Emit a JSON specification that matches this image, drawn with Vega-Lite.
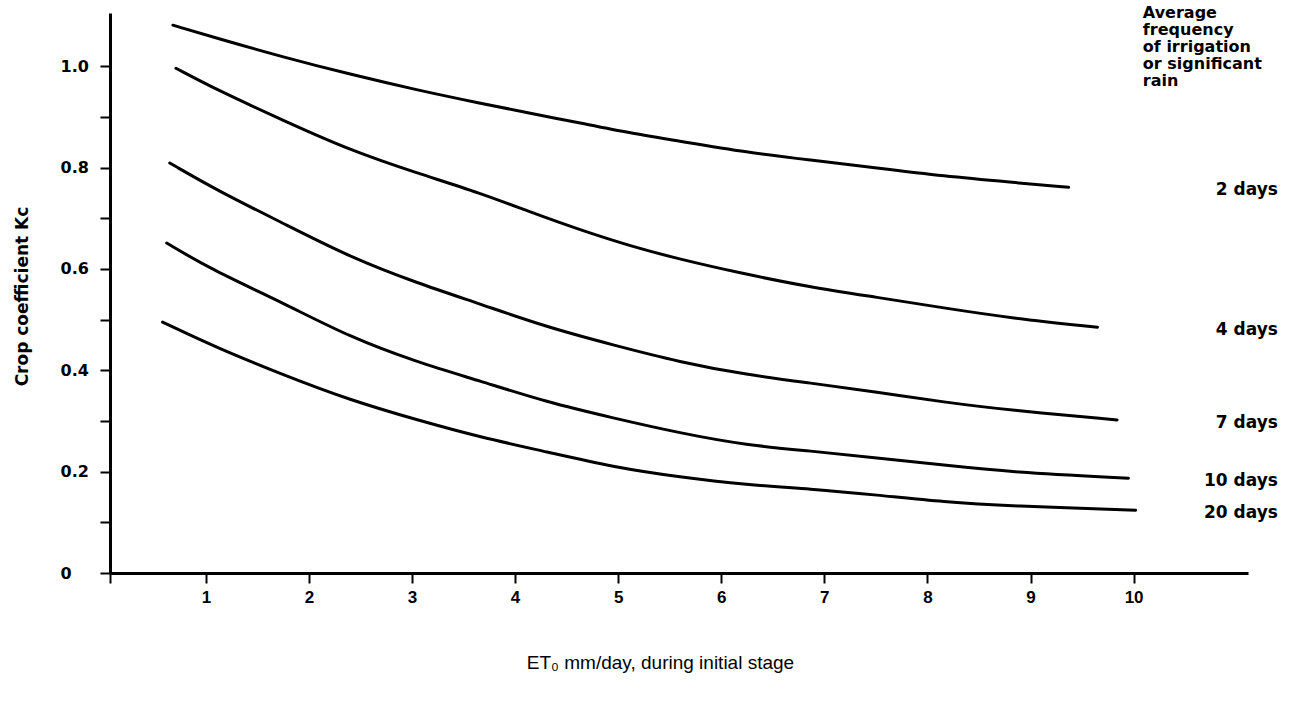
{
  "$schema": "https://vega.github.io/schema/vega-lite/v6.json",
  "width": 1138,
  "height": 560,
  "autosize": {"type": "none"},
  "padding": {"left": 110, "top": 13, "right": 65, "bottom": 132},
  "background": "white",
  "config": {
    "view": {"stroke": null},
    "axis": {"grid": false}
  },
  "datasets": {
    "curves": [
      {"series": "2 days", "x": 0.68, "v": 1.081},
      {"series": "2 days", "x": 1.11, "v": 1.055},
      {"series": "2 days", "x": 1.75, "v": 1.018},
      {"series": "2 days", "x": 2.40, "v": 0.984},
      {"series": "2 days", "x": 3.05, "v": 0.953},
      {"series": "2 days", "x": 3.66, "v": 0.927},
      {"series": "2 days", "x": 4.15, "v": 0.907},
      {"series": "2 days", "x": 4.63, "v": 0.888},
      {"series": "2 days", "x": 5.12, "v": 0.868},
      {"series": "2 days", "x": 5.60, "v": 0.852},
      {"series": "2 days", "x": 6.25, "v": 0.830},
      {"series": "2 days", "x": 6.86, "v": 0.815},
      {"series": "2 days", "x": 7.51, "v": 0.799},
      {"series": "2 days", "x": 8.16, "v": 0.783},
      {"series": "2 days", "x": 8.81, "v": 0.771},
      {"series": "2 days", "x": 9.37, "v": 0.761},
      {"series": "4 days", "x": 0.71, "v": 0.996},
      {"series": "4 days", "x": 1.11, "v": 0.953},
      {"series": "4 days", "x": 1.75, "v": 0.893},
      {"series": "4 days", "x": 2.40, "v": 0.834},
      {"series": "4 days", "x": 3.05, "v": 0.789},
      {"series": "4 days", "x": 3.66, "v": 0.750},
      {"series": "4 days", "x": 4.15, "v": 0.712},
      {"series": "4 days", "x": 4.63, "v": 0.677},
      {"series": "4 days", "x": 5.12, "v": 0.645},
      {"series": "4 days", "x": 5.60, "v": 0.619},
      {"series": "4 days", "x": 6.18, "v": 0.592},
      {"series": "4 days", "x": 6.86, "v": 0.564},
      {"series": "4 days", "x": 7.51, "v": 0.544},
      {"series": "4 days", "x": 8.16, "v": 0.523},
      {"series": "4 days", "x": 8.81, "v": 0.503},
      {"series": "4 days", "x": 9.65, "v": 0.485},
      {"series": "7 days", "x": 0.65, "v": 0.809},
      {"series": "7 days", "x": 1.11, "v": 0.755},
      {"series": "7 days", "x": 1.75, "v": 0.690},
      {"series": "7 days", "x": 2.40, "v": 0.623},
      {"series": "7 days", "x": 3.05, "v": 0.572},
      {"series": "7 days", "x": 3.66, "v": 0.531},
      {"series": "7 days", "x": 4.31, "v": 0.485},
      {"series": "7 days", "x": 4.95, "v": 0.450},
      {"series": "7 days", "x": 5.60, "v": 0.416},
      {"series": "7 days", "x": 6.25, "v": 0.391},
      {"series": "7 days", "x": 6.86, "v": 0.375},
      {"series": "7 days", "x": 7.51, "v": 0.357},
      {"series": "7 days", "x": 8.16, "v": 0.337},
      {"series": "7 days", "x": 8.81, "v": 0.321},
      {"series": "7 days", "x": 9.84, "v": 0.302},
      {"series": "10 days", "x": 0.62, "v": 0.651},
      {"series": "10 days", "x": 1.06, "v": 0.598},
      {"series": "10 days", "x": 1.75, "v": 0.533},
      {"series": "10 days", "x": 2.40, "v": 0.465},
      {"series": "10 days", "x": 3.05, "v": 0.416},
      {"series": "10 days", "x": 3.66, "v": 0.379},
      {"series": "10 days", "x": 4.31, "v": 0.337},
      {"series": "10 days", "x": 4.95, "v": 0.306},
      {"series": "10 days", "x": 5.60, "v": 0.276},
      {"series": "10 days", "x": 6.25, "v": 0.252},
      {"series": "10 days", "x": 6.86, "v": 0.241},
      {"series": "10 days", "x": 7.51, "v": 0.227},
      {"series": "10 days", "x": 8.16, "v": 0.213},
      {"series": "10 days", "x": 8.81, "v": 0.199},
      {"series": "10 days", "x": 9.95, "v": 0.187},
      {"series": "20 days", "x": 0.58, "v": 0.495},
      {"series": "20 days", "x": 1.11, "v": 0.444},
      {"series": "20 days", "x": 1.75, "v": 0.391},
      {"series": "20 days", "x": 2.40, "v": 0.341},
      {"series": "20 days", "x": 3.05, "v": 0.302},
      {"series": "20 days", "x": 3.66, "v": 0.268},
      {"series": "20 days", "x": 4.31, "v": 0.239},
      {"series": "20 days", "x": 4.95, "v": 0.209},
      {"series": "20 days", "x": 5.60, "v": 0.189},
      {"series": "20 days", "x": 6.25, "v": 0.174},
      {"series": "20 days", "x": 6.86, "v": 0.166},
      {"series": "20 days", "x": 7.51, "v": 0.154},
      {"series": "20 days", "x": 8.16, "v": 0.140},
      {"series": "20 days", "x": 8.81, "v": 0.132},
      {"series": "20 days", "x": 10.02, "v": 0.124}
    ],
    "note": [
      {"text": "Average\nfrequency\nof irrigation\nor significant\nrain"}
    ]
  },
  "layer": [
    {
      "data": {"name": "curves"},
      "mark": {"type": "line", "color": "black", "strokeWidth": 3, "interpolate": "basis", "strokeCap": "round"},
      "encoding": {
        "x": {
          "field": "x", "type": "quantitative",
          "scale": {"domain": [0.07, 11.11], "nice": false, "zero": false},
          "axis": {
            "title": "ET₀  mm/day, during initial stage",
            "values": [0.07, 1, 2, 3, 4, 5, 6, 7, 8, 9, 10],
            "labelExpr": "datum.value < 0.5 ? '' : format(datum.value, 'd')",
            "domainColor": "black", "domainWidth": 3,
            "tickColor": "black", "tickWidth": 2, "tickSize": 10,
            "labelColor": "black", "labelFont": "Liberation Sans Narrow, Liberation Sans", "labelFontSize": 17, "labelFontWeight": "bold",
            "labelPadding": 6,
            "titleColor": "black", "titleFont": "Liberation Sans Narrow, Liberation Sans", "titleFontSize": 19, "titleFontWeight": "normal",
            "titleX": 550, "titleY": 89, "titleBaseline": "middle", "titleAnchor": null, "titleAlign": "center"
          }
        },
        "y": {
          "field": "v", "type": "quantitative",
          "scale": {"domain": [0, 1.105], "nice": false, "zero": false},
          "axis": {
            "title": "Crop coefficient Kc",
            "values": [0, 0.1, 0.2, 0.3, 0.4, 0.5, 0.6, 0.7, 0.8, 0.9, 1.0],
            "labelExpr": "datum.value == 0 ? '0' : (round(datum.value * 10) % 2 == 0 ? format(datum.value, '.1f') : '')",
            "domainColor": "black", "domainWidth": 3,
            "tickColor": "black", "tickWidth": 2, "tickSize": 10,
            "labelColor": "black", "labelFont": "DejaVu Sans", "labelFontSize": 16, "labelFontWeight": "bold",
            "labelAlign": "left", "labelPadding": 40, "labelBaseline": "middle",
            "titleColor": "black", "titleFont": "DejaVu Sans", "titleFontSize": 17, "titleFontWeight": "bold",
            "titleX": -88, "titleY": 283, "titleAngle": 270, "titleBaseline": "middle", "titleAlign": "center", "titleAnchor": null
          }
        },
        "detail": {"field": "series", "type": "nominal"}
      }
    },
    {
      "data": {"name": "curves"},
      "transform": [
        {"aggregate": [{"op": "argmax", "field": "x", "as": "last"}], "groupby": ["series"]}
      ],
      "mark": {"type": "text", "align": "right", "baseline": "middle", "dy": 3, "font": "DejaVu Sans", "fontSize": 17, "fontWeight": "bold", "color": "black"},
      "encoding": {
        "x": {"datum": 11.4, "type": "quantitative", "scale": {"domain": [0.07, 11.11], "nice": false, "zero": false}},
        "y": {"field": "last.v", "type": "quantitative", "scale": {"domain": [0, 1.105], "nice": false, "zero": false}},
        "text": {"field": "series", "type": "nominal"}
      }
    },
    {
      "data": {"name": "note"},
      "mark": {"type": "text", "align": "left", "baseline": "top", "lineBreak": "\n", "lineHeight": 17, "font": "DejaVu Sans", "fontSize": 16, "fontWeight": "bold", "color": "black"},
      "encoding": {
        "x": {"datum": 10.09, "type": "quantitative", "scale": {"domain": [0.07, 11.11], "nice": false, "zero": false}},
        "y": {"datum": 1.12, "type": "quantitative", "scale": {"domain": [0, 1.105], "nice": false, "zero": false}},
        "text": {"field": "text", "type": "nominal"}
      }
    }
  ]
}
